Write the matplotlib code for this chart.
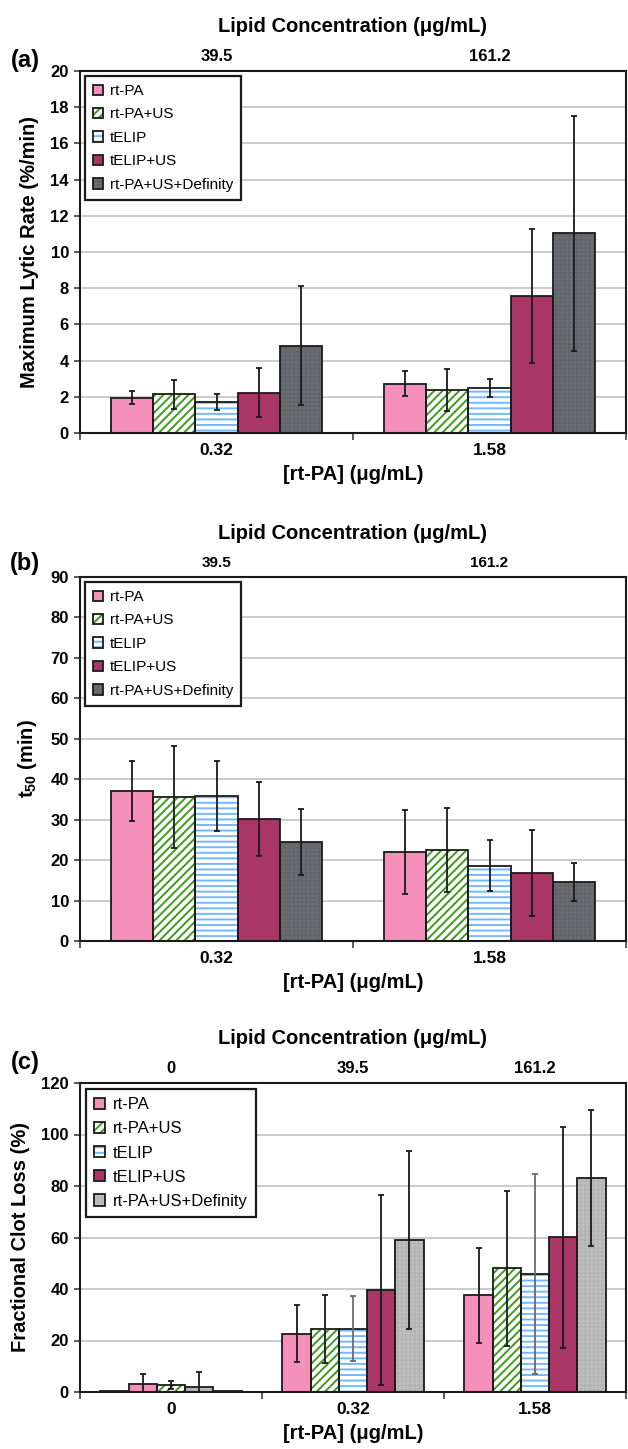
import numpy as np
import matplotlib
matplotlib.use('Agg')
import matplotlib.pyplot as plt
from matplotlib.patches import Patch
from matplotlib.legend_handler import HandlerTuple

plt.rcParams['font.family'] = ['Liberation Sans', 'DejaVu Sans']
plt.rcParams['mathtext.fontset'] = 'custom'
plt.rcParams['mathtext.rm'] = 'Liberation Sans'
plt.rcParams['mathtext.bf'] = 'Liberation Sans:bold'
plt.rcParams['hatch.linewidth'] = 1.4

# ---- data ----
series = ['rt-PA', 'rt-PA+US', 'tELIP', 'tELIP+US', 'rt-PA+US+Definity']

# (a) maximum lytic rate (%/min), rt-PA 0.32 and 1.58 ug/mL
a_cats = ['0.32', '1.58']
a_lipid = ['39.5', '161.2']
a_vals = [[1.95, 2.73], [2.14, 2.36], [1.71, 2.49], [2.23, 7.59], [4.83, 11.04]]
a_errs = [[0.35, 0.69], [0.81, 1.16], [0.43, 0.51], [1.36, 3.7], [3.27, 6.5]]

# (b) t50 (min)
b_cats = ['0.32', '1.58']
b_lipid = ['39.5', '161.2']
b_vals = [[37.0, 22.1], [35.5, 22.5], [35.8, 18.6], [30.1, 16.8], [24.5, 14.6]]
b_errs = [[7.4, 10.4], [12.6, 10.3], [8.7, 6.3], [9.1, 10.6], [8.2, 4.8]]

# (c) fractional clot loss (%), groups 0.32 and 1.58
c_cats = ['0', '0.32', '1.58']
c_lipid = ['0', '39.5', '161.2']
c_vals = [[22.7, 37.5], [24.5, 48.0], [24.5, 45.8], [39.6, 60.1], [59.0, 83.2]]
c_errs = [[11.2, 18.6], [13.3, 30.0], [12.6, 39.0], [37.0, 43.0], [34.6, 26.5]]
# (c) group at 0 ug/mL rt-PA (controls), one bar per slot
c_zero_vals = [0.3, 3.1, 2.7, 2.1, 0.2]
c_zero_errs = [0.0, 3.9, 1.6, 5.5, 0.0]
c_zero_style = [0, 0, 1, 4, 4]

# ---- styles ----
dark_gray = dict(fc='#6f7276', hatch='++++', hc='#626569')
light_gray = dict(fc='#c4c4c4', hatch='++++', hc='#b5b5b5')
styles_ab = [
    dict(fc='#f590bb', hatch=None, hc=None),
    dict(fc='white', hatch='////', hc='#3f9a1c'),
    dict(fc='white', hatch='---', hc='#74b9ff'),
    dict(fc='#a93765', hatch=None, hc=None),
    dark_gray,
]
styles_c = styles_ab[:4] + [light_gray]

W = 0.155
FS_LAB = 14.5


def draw_bar(ax, x, h, st, err, ecol='#1a1a1a'):
    if st['hatch']:
        ax.bar(x, h, W, color=st['fc'], edgecolor=st['hc'], hatch=st['hatch'],
               linewidth=0, zorder=2)
    else:
        ax.bar(x, h, W, color=st['fc'], linewidth=0, zorder=2)
    ax.bar(x, h, W, fill=False, edgecolor='#1a1a1a', linewidth=1.3, zorder=3)
    if err > 0:
        ax.errorbar(x, h, yerr=err, fmt='none', ecolor=ecol, elinewidth=1.3,
                    capsize=2.5, capthick=1.3, zorder=4)


def setup(ax, cats, lipid, ymax, ystep, ylabel, styles, top_fs, leg_fs, leg_sp):
    n = len(cats)
    ax.set_xlim(-0.5, n - 0.5)
    ax.set_ylim(0, ymax)
    ax.set_yticks(np.arange(0, ymax + 0.1, ystep))
    ax.set_yticklabels([f'{v:g}' for v in np.arange(0, ymax + 0.1, ystep)],
                       fontweight='bold', fontsize=12)
    ax.set_xticks(range(n))
    ax.set_xticklabels(cats, fontweight='bold', fontsize=12.5)
    ax.set_xticks(np.arange(-0.5, n), minor=True)
    ax.tick_params(axis='x', which='major', length=0, pad=7)
    ax.tick_params(axis='x', which='minor', length=5, width=1.2, color='#404040')
    ax.tick_params(axis='y', length=4, width=1.2, pad=4, color='#404040')
    ax.yaxis.grid(True, color='#bdbdbd', linewidth=1.1)
    ax.set_axisbelow(True)
    for s in ax.spines.values():
        s.set_linewidth(1.5)
        s.set_color('#1a1a1a')
    ax.set_xlabel('[rt-PA] (μg/mL)', fontweight='bold', fontsize=FS_LAB, labelpad=5)
    ax.set_ylabel(ylabel, fontweight='bold', fontsize=FS_LAB, labelpad=8)

    sec = ax.secondary_xaxis('top')
    sec.set_xticks(range(n))
    sec.set_xticklabels(lipid, fontweight='bold', fontsize=top_fs)
    sec.tick_params(length=0, pad=5)
    sec.spines['top'].set_visible(False)
    sec.set_xlabel('Lipid Concentration (μg/mL)', fontweight='bold',
                   fontsize=FS_LAB, labelpad=12)

    handles = []
    for st in styles:
        if st['hatch']:
            h1 = Patch(facecolor=st['fc'], edgecolor=st['hc'], hatch=st['hatch'], linewidth=0)
        else:
            h1 = Patch(facecolor=st['fc'], linewidth=0)
        h2 = Patch(fill=False, edgecolor='#1a1a1a', linewidth=1.3)
        handles.append((h1, h2))
    leg = ax.legend(handles, series, loc='upper left', fontsize=leg_fs,
                    handler_map={tuple: HandlerTuple(ndivide=1, pad=0)},
                    handlelength=0.65, handleheight=0.65, handletextpad=0.45,
                    labelspacing=leg_sp, borderaxespad=0.35, borderpad=0.5,
                    fancybox=False, framealpha=1, edgecolor='#1a1a1a')
    leg.get_frame().set_linewidth(1.6)
    leg.set_zorder(6)


fig = plt.figure(figsize=(6.28, 14.49), dpi=100)
L, R = 80 / 628, 626 / 628
H = 1449


def axes_at(top_px, bot_px):
    return fig.add_axes([L, 1 - bot_px / H, R - L, (bot_px - top_px) / H])


# (a)
ax = axes_at(71, 433)
for k in range(5):
    for i in range(len(a_cats)):
        draw_bar(ax, i + (k - 2) * W, a_vals[k][i], styles_ab[k], a_errs[k][i])
setup(ax, a_cats, a_lipid, 20, 2, 'Maximum Lytic Rate (%/min)', styles_ab, 12, 11, 0.62)

# (b)
ax = axes_at(577, 941)
for k in range(5):
    for i in range(len(b_cats)):
        draw_bar(ax, i + (k - 2) * W, b_vals[k][i], styles_ab[k], b_errs[k][i])
setup(ax, b_cats, b_lipid, 90, 10, r'$\mathbf{t_{50}}$ (min)', styles_ab, 11, 11, 0.62)

# (c)
ax = axes_at(1083, 1392)
for k in range(5):
    draw_bar(ax, 0 + (k - 2) * W, c_zero_vals[k], styles_c[c_zero_style[k]], c_zero_errs[k])
    for i in range(2):
        ecol = '#6a6a6a' if k == 2 else '#1a1a1a'
        draw_bar(ax, i + 1 + (k - 2) * W, c_vals[k][i], styles_c[k], c_errs[k][i], ecol)
setup(ax, c_cats, c_lipid, 120, 20, 'Fractional Clot Loss (%)', styles_c, 12, 12, 0.55)

for lab, y in [('(a)', 60), ('(b)', 564), ('(c)', 1063)]:
    fig.text(25 / 628, 1 - y / H, lab, fontsize=17, fontweight='bold',
             ha='center', va='center')

fig.savefig('out.png', dpi=100)
